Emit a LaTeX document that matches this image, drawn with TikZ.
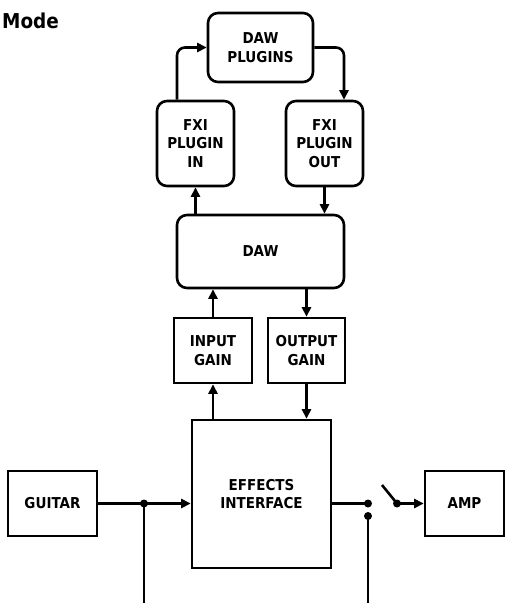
\documentclass[tikz,border=0pt]{standalone}
\usepackage{fontspec}
\setmainfont{DejaVu Sans}[FakeStretch=0.9]
\usetikzlibrary{arrows.meta}
\begin{document}
\begin{tikzpicture}[x=1pt,y=-1pt,
  lbl/.style={font=\fontsize{15}{18.5}\selectfont\bfseries, align=center, inner sep=0pt},
  rbox/.style={lbl, draw, line width=2.6pt, rounded corners=10pt},
  sbox/.style={lbl, draw, line width=2.6pt},
  wire/.style={line width=2.6pt},
  arr/.style={wire, -{Triangle[length=9.5pt,width=9pt]}},
  dot/.style={circle, fill, inner sep=0pt, minimum size=8pt}]
\useasboundingbox (0,0) rectangle (511,603);
\node[anchor=base west, font=\fontsize{20.5}{24}\selectfont\bfseries, inner sep=0pt] (mode) at (2,28) {Mode};
\node[rbox, minimum width=105pt, minimum height=69pt] (dawp) at (260.5,47.5) {DAW\\PLUGINS};
\node[rbox, minimum width=77pt, minimum height=85pt] (fxin) at (195.5,143.5) {FXI\\PLUGIN\\IN};
\node[rbox, minimum width=77pt, minimum height=85pt] (fxout) at (324.5,143.5) {FXI\\PLUGIN\\OUT};
\node[rbox, minimum width=167pt, minimum height=73pt] (daw) at (260.5,251.5) {DAW};
\node[sbox, minimum width=78pt, minimum height=65pt] (ing) at (213,350.5) {INPUT\\GAIN};
\node[sbox, minimum width=77pt, minimum height=65pt] (outg) at (306.5,350.5) {OUTPUT\\GAIN};
\node[sbox, minimum width=139pt, minimum height=148pt] (eff) at (261.5,494) {EFFECTS\\INTERFACE};
\node[sbox, minimum width=89pt, minimum height=65pt] (guitar) at (52.5,503.5) {GUITAR};
\node[sbox, minimum width=79pt, minimum height=65pt] (amp) at (464.5,503.5) {AMP};
% junctions and switch
\node[dot] (j1) at (144,503.5) {};
\node[dot] (d1) at (368,503.5) {};
\node[dot] (d2) at (368,516) {};
\node[dot] (s2) at (397,503.5) {};
\coordinate (s1) at (382,485);
\coordinate (b1) at (144,603);
\coordinate (b2) at (368,603);
% top loop
\draw[arr, rounded corners=8pt] ([xshift=-18.5pt]fxin.north) |- (dawp.west);
\draw[arr, rounded corners=8pt] (dawp.east) -| ([xshift=19.5pt]fxout.north);
% DAW connections
\draw[arr] (daw.north -| fxin.south) -- (fxin.south);
\draw[arr] (fxout.south) -- (daw.north -| fxout.south);
\draw[arr] (ing.north) -- (daw.south -| ing.north);
\draw[arr] (daw.south -| outg.north) -- (outg.north);
\draw[arr] (eff.north -| ing.south) -- (ing.south);
\draw[arr] (outg.south) -- (eff.north -| outg.south);
% bottom
\draw[arr] (guitar.east) -- (guitar.east -| eff.west);
\draw[wire] (j1.center) -- (b1);
\draw[wire] (eff.east |- d1) -- (d1.center);
\draw[wire] (d2.center) -- (b2);
\draw[wire] (s1) -- (s2.center);
\draw[arr] (s2.center) -- (amp.west);
\end{tikzpicture}
\end{document}
